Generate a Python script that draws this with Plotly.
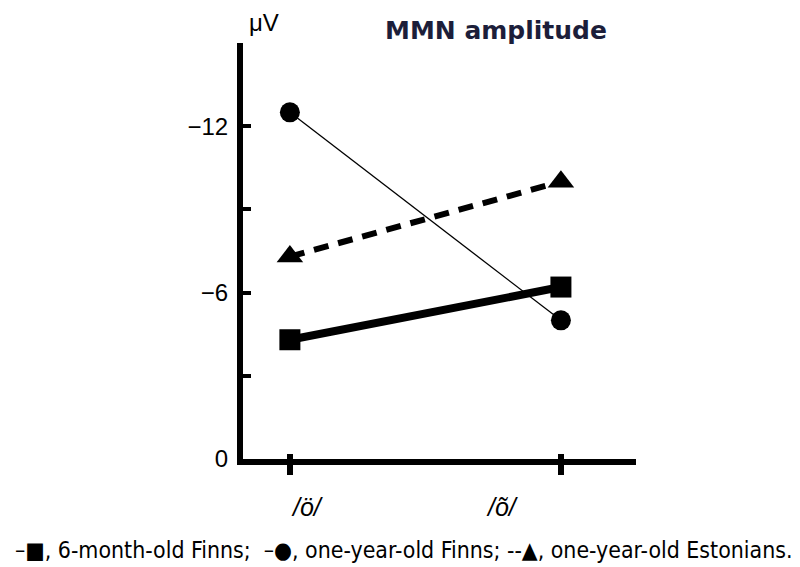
import plotly.graph_objects as go

# vowel stimuli on the x axis
vowels = ["/ö/", "/õ/"]

# MMN amplitude (microvolts) per group
finns_6m = [-4.3, -6.2]
finns_1y = [-12.5, -5.0]
estonians_1y = [-7.3, -10.0]

y_ticks = [0, -3, -6, -9, -12, -15]
y_ticktext = ["0", "", "\u22126", "", "\u221212", ""]

caption = ("\u2013\u25a0, 6-month-old Finns;  \u2013\u25cf, one-year-old Finns; "
           "--\u25b2, one-year-old Estonians.")

fig = go.Figure()

# 6-month-old Finns: thick solid line, squares
fig.add_trace(go.Scatter(x=vowels, y=finns_6m, mode="lines+markers",
                         name="6-month-old Finns",
                         line=dict(color="black", width=8),
                         marker=dict(symbol="square", size=21, color="black")))

# one-year-old Finns: thin line, circles
fig.add_trace(go.Scatter(x=vowels, y=finns_1y, mode="lines+markers",
                         name="one-year-old Finns",
                         line=dict(color="black", width=1.3),
                         marker=dict(symbol="circle", size=20, color="black")))

# one-year-old Estonians: dashed line, triangles
fig.add_trace(go.Scatter(x=vowels, y=estonians_1y, mode="lines+markers",
                         name="one-year-old Estonians",
                         line=dict(color="black", width=6, dash="15px,10px"),
                         marker=dict(symbol="triangle-up", size=23, color="black")))

# the page body has an 8px margin, so the figure is laid out 8px up/left
fig.update_layout(
    width=800, height=567,
    margin=dict(l=235, r=172, t=35, b=116),
    paper_bgcolor="white", plot_bgcolor="white",
    showlegend=False,
    font=dict(family="Liberation Sans, Arial", size=24, color="black"),
    xaxis=dict(type="category", range=[-0.173, 1.277],
               showline=True, linewidth=6, linecolor="black",
               showgrid=False, zeroline=False,
               ticks="outside", ticklen=10, tickwidth=6, tickcolor="black",
               showticklabels=False),
    xaxis2=dict(type="category", overlaying="x", matches="x", side="bottom",
                showline=False, showgrid=False, zeroline=False,
                tickvals=vowels, ticks="inside", ticklen=5, tickwidth=6,
                tickcolor="black", showticklabels=False),
    yaxis=dict(range=[0, -15], showline=True, linewidth=6, linecolor="black",
               showgrid=False, zeroline=False,
               tickvals=y_ticks, ticktext=y_ticktext,
               ticks="inside", ticklen=8, tickwidth=4, tickcolor="black",
               ticklabelstandoff=4),
)

# a dummy trace so the overlaid axis carrying the inner tick halves is drawn
fig.add_trace(go.Scatter(x=vowels, y=[None, None], xaxis="x2", showlegend=False,
                         hoverinfo="skip"))

# italic vowel labels, set off from the ticks as in the original
for v, shift in zip(vowels, [18, -58]):
    fig.add_annotation(x=v, y=0, yref="y", yshift=-48, xshift=shift,
                       xanchor="center", yanchor="middle",
                       text="<i>" + v + "</i>", showarrow=False,
                       font=dict(size=25, family="Liberation Sans, Arial"))

fig.add_annotation(x=0, xref="paper", y=1, yref="paper", xshift=4, yshift=21,
                   xanchor="left", yanchor="middle", text="\u03bcV", showarrow=False,
                   font=dict(size=24, family="Liberation Sans, Arial"))

fig.add_annotation(x=0.644, xref="paper", y=1, yref="paper", yshift=13,
                   text="MMN amplitude", showarrow=False,
                   xanchor="center", yanchor="middle",
                   font=dict(size=25, family="DejaVu Sans", weight="bold",
                             color="#1c1e3a"))

fig.add_annotation(x=0.408, xref="paper", y=0, yref="paper", yshift=-91,
                   xanchor="center", yanchor="middle",
                   text=caption, showarrow=False,
                   font=dict(size=22.9, family="DejaVu Sans Condensed", color="black"))

fig.write_html("out.html")
